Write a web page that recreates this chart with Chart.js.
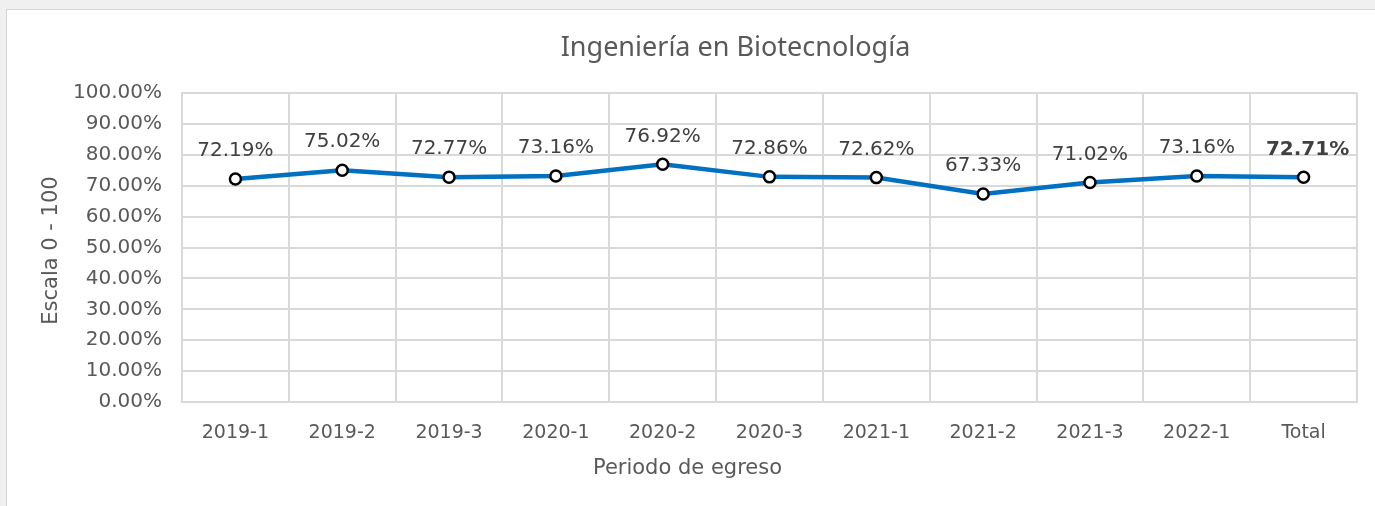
<!DOCTYPE html>
<html>
<head>
<meta charset="utf-8">
<script src="https://cdn.jsdelivr.net/npm/chart.js@4"></script>
<style>
  html, body { margin: 0; padding: 0; background: #f0f0f0; }
  #frame {
    position: absolute; left: 6px; top: 9px; width: 1369px; height: 497px;
    background: #fff; border-left: 1px solid #d4d4d4; border-top: 1px solid #d4d4d4;
  }
  #wrap { position: absolute; left: 0; top: 0; width: 1368px; height: 496px; }
</style>
</head>
<body>
<div id="frame"><div id="wrap"><canvas id="chart"></canvas></div></div>
<script>
// Values
const periods = ["2019-1", "2019-2", "2019-3", "2020-1", "2020-2", "2020-3", "2021-1", "2021-2", "2021-3", "2022-1", "Total"]
const scores = [72.19, 75.02, 72.77, 73.16, 76.92, 72.86, 72.62, 67.33, 71.02, 73.16, 72.71]
const chartTitle = "Ingeniería en Biotecnología"
const xTitle = "Periodo de egreso"
const yTitle = "Escala 0 - 100"

const textColor = "#595959"
const gridColor = "#d9d9d9"
const fontFamily = "'DejaVu Sans', sans-serif"

// Labels above each point; the Total one is bold
const pointLabels = {
  id: "pointLabels",
  afterDatasetsDraw(chart) {
    const ctx = chart.ctx
    const meta = chart.getDatasetMeta(0)
    ctx.save()
    ctx.fillStyle = "#404040"
    ctx.textAlign = "center"
    ctx.textBaseline = "middle"
    meta.data.forEach((pt, i) => {
      const last = i === scores.length - 1
      ctx.font = (last ? "bold " : "") + "20px " + fontFamily
      ctx.fillText(scores[i].toFixed(2) + "%", pt.x + (last ? 4 : 0), pt.y - 28)
    })
    ctx.restore()
  }
}

// Excel places the titles off the plot centre, so draw them by hand
const excelTitles = {
  id: "excelTitles",
  afterDraw(chart) {
    const ctx = chart.ctx
    const area = chart.chartArea
    const midX = (area.left + area.right) / 2
    const midY = (area.top + area.bottom) / 2
    ctx.save()
    ctx.fillStyle = textColor
    ctx.textAlign = "center"
    ctx.textBaseline = "middle"
    ctx.font = "27px 'Noto Sans', sans-serif"
    ctx.fillText(chartTitle, midX - 34, 38)
    ctx.font = "21px " + fontFamily
    ctx.fillText(xTitle, midX - 82, 459)
    ctx.translate(45, midY + 3)
    ctx.rotate(-Math.PI / 2)
    ctx.fillText(yTitle, 0, 0)
    ctx.restore()
  }
}

new Chart(document.getElementById("chart"), {
  type: "line",
  data: {
    labels: periods,
    datasets: [{
      data: scores,
      borderColor: "#0070C0",
      borderWidth: 4.5,
      pointRadius: 5.5,
      pointBorderWidth: 2.5,
      pointBackgroundColor: "#fff",
      pointBorderColor: "#000",
      tension: 0
    }]
  },
  options: {
    responsive: true,
    maintainAspectRatio: false,
    animation: false,
    layout: { padding: { left: 0, right: 18, top: 83, bottom: 0 } },
    plugins: {
      legend: { display: false },
      tooltip: { enabled: false },
      title: { display: false }
    },
    scales: {
      x: {
        offset: true,
        grid: { color: gridColor, lineWidth: 2, offset: true, drawTicks: false },
        border: { color: gridColor, width: 2 },
        ticks: { color: textColor, font: { family: fontFamily, size: 19 }, padding: 20 },
        afterFit(s) { s.height = 104 }
      },
      y: {
        min: 0, max: 100,
        grid: { color: gridColor, lineWidth: 2, drawTicks: false },
        border: { color: gridColor, width: 2 },
        ticks: {
          stepSize: 10, color: textColor, padding: 20,
          font: { family: fontFamily, size: 20 },
          callback: v => v.toFixed(2) + "%"
        },
        afterFit(s) { s.width = 175 }
      }
    }
  },
  plugins: [pointLabels, excelTitles]
})
</script>
</body>
</html>
